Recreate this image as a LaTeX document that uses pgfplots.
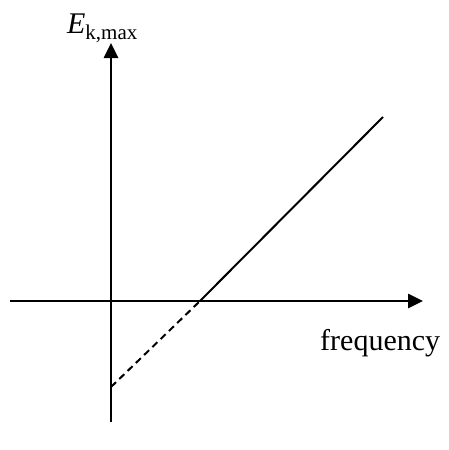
\documentclass[border=0pt]{standalone}
\usepackage{fontspec}
\setmainfont{Liberation Serif}
\usepackage{pgfplots}
\pgfplotsset{compat=1.18}
\usetikzlibrary{arrows.meta}
\begin{document}
\begin{tikzpicture}
\path[use as bounding box] (0,0) rectangle (449pt,-450pt);
\begin{axis}[
  at={(111pt,-301pt)}, anchor=origin,
  x=1pt, y=1pt,
  xmin=-101, xmax=312, ymin=-121, ymax=258,
  axis lines=middle,
  ticks=none,
  clip=false,
  every inner x axis line/.append style={line width=2.6pt, -{Triangle[length=15pt,width=14pt]}},
  every inner y axis line/.append style={line width=2.6pt, -{Triangle[length=15pt,width=14pt]}},
]
\addplot[black, line width=2pt] coordinates {(89,0) (272,184)};
\addplot[black, line width=2pt, dash pattern=on 7pt off 4.5pt] coordinates {(0,-86) (89,0)};
\node[anchor=base, inner sep=0pt, font=\fontsize{30}{36}\selectfont] at (axis cs:-8.5,268) {\textit{E}\textsubscript{k,max}};
\node[anchor=base west, inner sep=0pt, font=\fontsize{30}{36}\selectfont] at (axis cs:209,-49) {frequency};
\end{axis}
\end{tikzpicture}
\end{document}
